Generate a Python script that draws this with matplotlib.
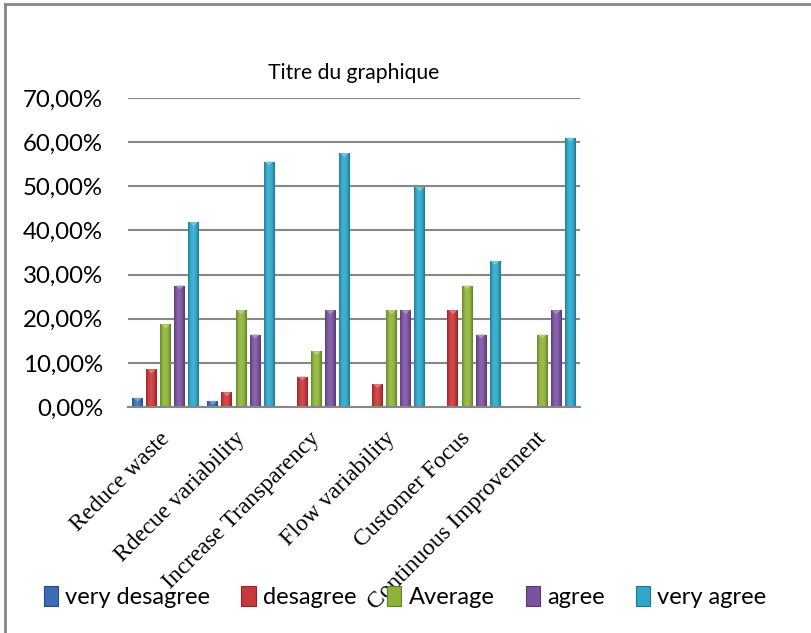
import matplotlib
matplotlib.use("Agg")
import matplotlib.pyplot as plt
import numpy as np
from matplotlib.colors import LinearSegmentedColormap, to_rgb
from matplotlib.lines import Line2D
from matplotlib.patches import Patch, Polygon, Rectangle
from matplotlib.ticker import FuncFormatter
from matplotlib.transforms import ScaledTranslation

categories = ["Reduce waste", "Rdecue variability", "Increase Transparency",
              "Flow variability", "Customer Focus", "Continuous Improvement"]
very_desagree = [0.021, 0.014, 0.0, 0.0, 0.0, 0.0]
desagree = [0.085, 0.033, 0.069, 0.052, 0.219, 0.0]
average = [0.187, 0.219, 0.126, 0.219, 0.275, 0.164]
agree = [0.275, 0.164, 0.219, 0.219, 0.164, 0.219]
very_agree = [0.418, 0.556, 0.575, 0.498, 0.331, 0.610]

series_names = ["very desagree", "desagree", "Average", "agree", "very agree"]
series_values = [very_desagree, desagree, average, agree, very_agree]
colors = ["#3a6db5", "#c8383a", "#8db33a", "#7a53a0", "#2ea7c8"]

SANS = "Lato"
SERIF = "Liberation Serif"


def shade(c, f):
    r, g, b = to_rgb(c)
    if f < 0:
        return (r * (1 + f), g * (1 + f), b * (1 + f))
    return (r + (1 - r) * f, g + (1 - g) * f, b + (1 - b) * f)


def draw_bar(ax, x0, w, h, color):
    rect = Rectangle((x0, 0), w, h, facecolor="none", edgecolor="none")
    ax.add_patch(rect)
    cmap = LinearSegmentedColormap.from_list(
        "bar", [shade(color, -0.25), shade(color, 0.05), shade(color, 0.12),
                shade(color, 0.0), shade(color, -0.3)])
    grad = np.linspace(0, 1, 64).reshape(1, -1)
    im = ax.imshow(grad, extent=[x0, x0 + w, 0, h], aspect="auto",
                   cmap=cmap, zorder=2, interpolation="bilinear")
    im.set_clip_path(rect)
    # small bevel triangle on top
    d = min(0.009, h * 0.6)
    tri = Polygon([(x0 + w * 0.12, h), (x0 + w * 0.88, h), (x0 + w / 2, h - d)],
                  closed=True, facecolor=shade(color, 0.35), edgecolor="none",
                  zorder=3)
    ax.add_patch(tri)


fig = plt.figure(figsize=(8.12, 6.33), dpi=100)
ax = fig.add_axes([128 / 812, 1 - 407 / 633, (580 - 128) / 812, (407 - 98) / 633])

step = 0.186
width = 0.146
x = np.arange(len(categories)) + 0.5
for i, (vals, col) in enumerate(zip(series_values, colors)):
    for xc, v in zip(x, vals):
        if v <= 0:
            continue
        draw_bar(ax, xc + (i - 2) * step - width / 2, width, v, col)

ax.set_xlim(0, len(categories))
ax.set_ylim(0, 0.7)
ax.set_yticks(np.arange(0, 0.71, 0.1))
ax.yaxis.set_major_formatter(FuncFormatter(lambda v, p: f"{v * 100:.2f}%".replace(".", ",")))
ax.grid(axis="y", color="#878787", linewidth=1.5, zorder=0)
ax.set_axisbelow(True)
for s in ["top", "right", "left"]:
    ax.spines[s].set_visible(False)
ax.spines["bottom"].set_color("#878787")
ax.spines["bottom"].set_linewidth(1.5)
ax.tick_params(axis="both", length=0)
ax.tick_params(axis="y", labelsize=17.3, pad=18)
for lab in ax.get_yticklabels():
    lab.set_fontfamily(SANS)

# rotated category labels, anchored just below each group
ax.set_xticks(x)
ax.set_xticklabels([])
label_shift = ax.get_xaxis_transform() + ScaledTranslation(-0.07, -0.21, fig.dpi_scale_trans)
for xc, name in zip(x, categories):
    ax.text(xc, 0, name, transform=label_shift, rotation=45, rotation_mode="anchor",
            ha="right", va="top", fontfamily=SERIF, fontsize=17)

fig.text(354 / 812, 1 - 73 / 633, "Titre du graphique", ha="center", va="center",
         fontsize=15.2, fontfamily=SANS)

handles = [Patch(facecolor=c, edgecolor=shade(c, -0.3), linewidth=0.8) for c in colors]
fig.legend(handles, series_names, loc="center", bbox_to_anchor=(405 / 812, 1 - 597 / 633),
           ncol=5, frameon=False, handlelength=0.6, handleheight=0.9,
           handletextpad=0.3, columnspacing=1.32,
           prop={"family": SANS, "size": 17})

# chart frame (left and top edges)
fig.add_artist(Line2D([5 / 812, 5 / 812], [0, 1 - 4 / 633], transform=fig.transFigure,
                      color="#878787", linewidth=2))
fig.add_artist(Line2D([5 / 812, 1], [1 - 4 / 633, 1 - 4 / 633], transform=fig.transFigure,
                      color="#878787", linewidth=2))

fig.savefig("out.png", dpi=100)
